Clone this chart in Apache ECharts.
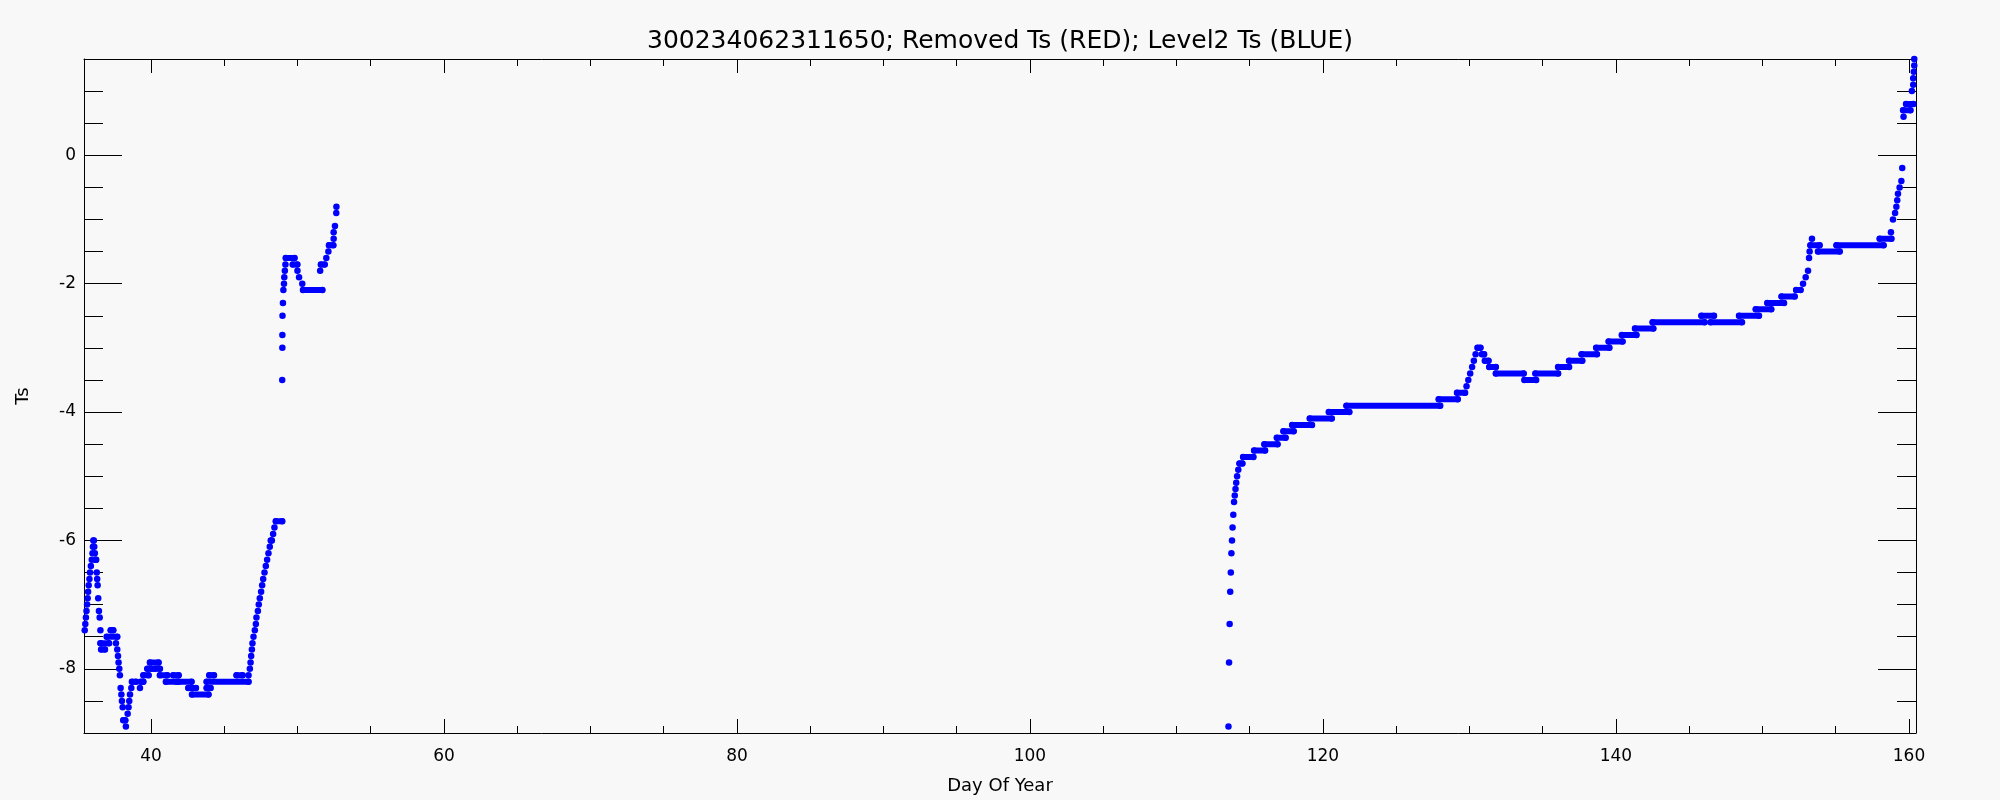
<!DOCTYPE html>
<html><head><meta charset="utf-8">
<script src="https://cdn.jsdelivr.net/npm/echarts@6/dist/echarts.min.js"></script>
<style>html,body{margin:0;padding:0;background:#f8f8f8}#c{width:2000px;height:800px}</style>
</head><body><div id="c"></div>
<script>
const titleText = '300234062311650; Removed Ts (RED); Level2 Ts (BLUE)';
const xName = 'Day Of Year';
const yName = 'Ts';
const xMin = 35.43, xMax = 160.48;
const yMin = -9, yMax = 1.5;
const xMajorTicks = [40, 60, 80, 100, 120, 140, 160];
const xMinorTicks = [45, 50, 55, 65, 70, 75, 85, 90, 95, 105, 110, 115, 125, 130, 135, 145, 150, 155];
const yMajorTicks = [-8, -6, -4, -2, 0];
const yMinorTicks = [-8.5, -7.5, -7, -6.5, -5.5, -5, -4.5, -3.5, -3, -2.5, -1.5, -1, -0.5, 0.5, 1];

// Segment 1: runs of equal Ts (start day, end day, value)
const seg1Start = [35.48,35.52,35.56,35.60,35.64,35.68,35.71,35.75,35.80,35.84,35.90,35.96,36.01,36.04,36.07,36.13,36.17,36.21,36.30,36.33,36.36,36.40,36.45,36.50,36.55,36.55,36.60,36.98,37.25,37.61,37.70,37.75,37.79,37.84,37.88,37.93,37.98,38.02,38.07,38.11,38.29,38.41,38.47,38.52,38.57,38.66,38.70,39.25,39.30,39.48,39.75,39.93,40.27,40.61,41.02,41.52,41.89,42.55,42.80,43.80,43.98,43.80,45.84,46.66,46.75,46.80,46.84,46.89,46.93,47.00,47.09,47.16,47.20,47.30,47.36,47.43,47.52,47.59,47.66,47.75,47.84,47.93,48.02,48.11,48.18,48.34,48.43,48.52,48.96,48.97,48.97,48.98,49.01,49.04,49.08,49.10,49.14,49.18,49.20,49.68,50.00,50.11,50.33,50.38,51.55,51.60,51.97,52.11,52.15,52.47,52.47,52.56,52.65,52.66];
const seg1End   = [35.48,35.52,35.56,35.60,35.64,35.68,35.71,35.75,35.80,35.84,35.90,35.96,36.01,36.04,36.10,36.13,36.17,36.26,36.30,36.33,36.36,36.40,36.45,36.50,36.55,37.14,36.86,37.70,37.43,37.61,37.70,37.75,37.79,37.84,37.88,37.93,37.98,38.02,38.07,38.25,38.29,38.41,38.47,38.52,38.57,38.66,38.98,39.25,39.48,39.84,40.05,40.52,40.61,41.11,41.75,41.89,42.77,43.07,43.93,44.07,44.30,46.66,46.25,46.66,46.75,46.80,46.84,46.89,46.93,47.00,47.09,47.16,47.20,47.30,47.36,47.43,47.52,47.59,47.66,47.75,47.84,47.93,48.02,48.11,48.25,48.34,48.43,48.96,48.96,48.97,48.97,48.98,49.01,49.04,49.08,49.10,49.14,49.18,49.80,49.99,50.00,50.11,50.33,51.70,51.55,51.86,51.97,52.11,52.45,52.47,52.47,52.56,52.65,52.66];
const seg1Val   = [-7.4,-7.3,-7.2,-7.1,-7.0,-6.9,-6.8,-6.7,-6.6,-6.5,-6.4,-6.3,-6.2,-6.1,-6.0,-6.1,-6.2,-6.3,-6.5,-6.6,-6.7,-6.9,-7.1,-7.2,-7.4,-7.6,-7.7,-7.5,-7.4,-7.6,-7.7,-7.8,-7.9,-8.0,-8.1,-8.3,-8.4,-8.5,-8.6,-8.8,-8.9,-8.7,-8.6,-8.5,-8.4,-8.3,-8.2,-8.3,-8.2,-8.1,-8.0,-7.9,-8.0,-8.1,-8.2,-8.1,-8.2,-8.3,-8.4,-8.3,-8.1,-8.2,-8.1,-8.1,-8.0,-7.9,-7.8,-7.7,-7.6,-7.5,-7.4,-7.3,-7.2,-7.1,-7.0,-6.9,-6.8,-6.7,-6.6,-6.5,-6.4,-6.3,-6.2,-6.1,-6.0,-5.9,-5.8,-5.7,-3.5,-3.0,-2.8,-2.5,-2.3,-2.1,-2.0,-1.9,-1.8,-1.7,-1.6,-1.7,-1.8,-1.9,-2.0,-2.1,-1.8,-1.7,-1.6,-1.5,-1.4,-1.3,-1.2,-1.1,-0.9,-0.8];

// Segment 2
const seg2Start = [113.55,113.59,113.63,113.67,113.71,113.75,113.79,113.83,113.88,113.93,113.98,114.03,114.08,114.14,114.22,114.30,114.55,115.30,116.00,116.85,117.30,117.90,119.10,120.40,121.60,127.90,129.15,129.80,129.92,130.05,130.18,130.30,130.42,130.55,130.85,131.05,131.35,131.80,133.75,134.50,136.05,136.80,137.65,138.65,139.50,140.40,141.30,142.50,145.83,146.46,148.40,149.54,150.33,151.30,152.30,152.77,152.95,153.11,153.18,153.22,153.27,153.38,153.79,155.05,158.00,158.77,158.91,159.05,159.14,159.20,159.25,159.36,159.48,159.54,159.63,159.60,159.80,160.20,160.29,160.29,160.33,160.36,160.36];
const seg2End   = [113.55,113.59,113.63,113.67,113.71,113.75,113.79,113.83,113.88,113.93,113.98,114.03,114.08,114.14,114.22,114.50,115.25,116.05,116.90,117.45,118.00,119.25,120.60,121.80,128.00,129.20,129.70,129.80,129.92,130.05,130.18,130.30,130.42,130.75,131.00,131.30,131.80,133.70,134.55,136.05,136.80,137.70,138.70,139.55,140.45,141.40,142.55,146.05,146.69,148.60,149.76,150.60,151.47,152.20,152.60,152.77,152.95,153.11,153.18,153.22,153.90,153.38,155.27,158.27,158.80,158.77,158.91,159.05,159.14,159.20,159.25,159.36,159.48,159.54,159.63,160.10,160.30,160.20,160.29,160.29,160.33,160.36,160.36];
const seg2Val   = [-8.9,-7.9,-7.3,-6.8,-6.5,-6.2,-6.0,-5.8,-5.6,-5.4,-5.3,-5.2,-5.1,-5.0,-4.9,-4.8,-4.7,-4.6,-4.5,-4.4,-4.3,-4.2,-4.1,-4.0,-3.9,-3.8,-3.7,-3.6,-3.5,-3.4,-3.3,-3.2,-3.1,-3.0,-3.1,-3.2,-3.3,-3.4,-3.5,-3.4,-3.3,-3.2,-3.1,-3.0,-2.9,-2.8,-2.7,-2.6,-2.5,-2.6,-2.5,-2.4,-2.3,-2.2,-2.1,-2.0,-1.9,-1.8,-1.6,-1.5,-1.4,-1.3,-1.5,-1.4,-1.3,-1.2,-1.0,-0.9,-0.8,-0.7,-0.6,-0.5,-0.4,-0.2,0.6,0.7,0.8,1.0,1.1,1.2,1.3,1.4,1.5];

const starts = seg1Start.concat(seg2Start);
const ends = seg1End.concat(seg2End);
const vals = seg1Val.concat(seg2Val);

const dots = [], runs = [];
for (let i = 0; i < starts.length; i++) {
  dots.push([starts[i], vals[i]]);
  if (ends[i] > starts[i]) {
    dots.push([ends[i], vals[i]]);
    runs.push([starts[i], vals[i]], [ends[i], vals[i]], ['-', '-']);
  }
}

const FONT = 'DejaVu Sans';
const BLUE = '#0000ff';
function xAx(pos, ticks, len, labels, line) {
  return {
    type: 'value', position: pos, min: xMin, max: xMax, gridIndex: 0,
    axisLine: {show: line, onZero: false, lineStyle: {color: '#000', width: 1}},
    axisTick: {show: true, inside: true, length: len, customValues: ticks, lineStyle: {color: '#000', width: 1}},
    axisLabel: {show: labels, customValues: ticks, color: '#000', fontSize: 17, fontFamily: FONT, margin: 15},
    splitLine: {show: false},
    name: labels ? xName : '', nameLocation: 'middle', nameGap: 44,
    nameTextStyle: {color: '#000', fontSize: 18, fontFamily: FONT}
  };
}
function yAx(pos, ticks, len, labels, line) {
  return {
    type: 'value', position: pos, min: yMin, max: yMax, gridIndex: 0,
    axisLine: {show: line, onZero: false, lineStyle: {color: '#000', width: 1}},
    axisTick: {show: true, inside: true, length: len, customValues: ticks, lineStyle: {color: '#000', width: 1}},
    axisLabel: {show: labels, customValues: ticks, color: '#000', fontSize: 17, fontFamily: FONT, margin: 8},
    splitLine: {show: false},
    name: labels ? yName : '', nameLocation: 'middle', nameGap: 52, nameRotate: 90,
    nameTextStyle: {color: '#000', fontSize: 18, fontFamily: FONT}
  };
}

const chart = echarts.init(document.getElementById('c'), null, {renderer: 'canvas'});
chart.setOption({
  animation: false,
  backgroundColor: '#f8f8f8',
  title: {text: titleText, left: 'center', top: 24,
    textStyle: {color: '#000', fontSize: 25, fontWeight: 'normal', fontFamily: FONT}},
  grid: {left: 84, right: 84, top: 59, bottom: 61, containLabel: false},
  xAxis: [
    xAx('bottom', xMajorTicks, 14, true, true),
    xAx('bottom', xMinorTicks, 7, false, false),
    xAx('top', xMajorTicks, 14, false, true),
    xAx('top', xMinorTicks, 7, false, false)
  ],
  yAxis: [
    yAx('left', yMajorTicks, 38, true, true),
    yAx('left', yMinorTicks, 19, false, false),
    yAx('right', yMajorTicks, 38, false, true),
    yAx('right', yMinorTicks, 19, false, false)
  ],
  series: [
    {type: 'line', xAxisIndex: 0, yAxisIndex: 0, data: runs, showSymbol: false, symbol: 'none',
     connectNulls: false, clip: true,
     lineStyle: {color: BLUE, width: 6, cap: 'round'}},
    {type: 'scatter', xAxisIndex: 0, yAxisIndex: 0, data: dots, symbol: 'circle', symbolSize: 6.5,
     clip: true, itemStyle: {color: BLUE, opacity: 1}}
  ]
});
</script></body></html>
